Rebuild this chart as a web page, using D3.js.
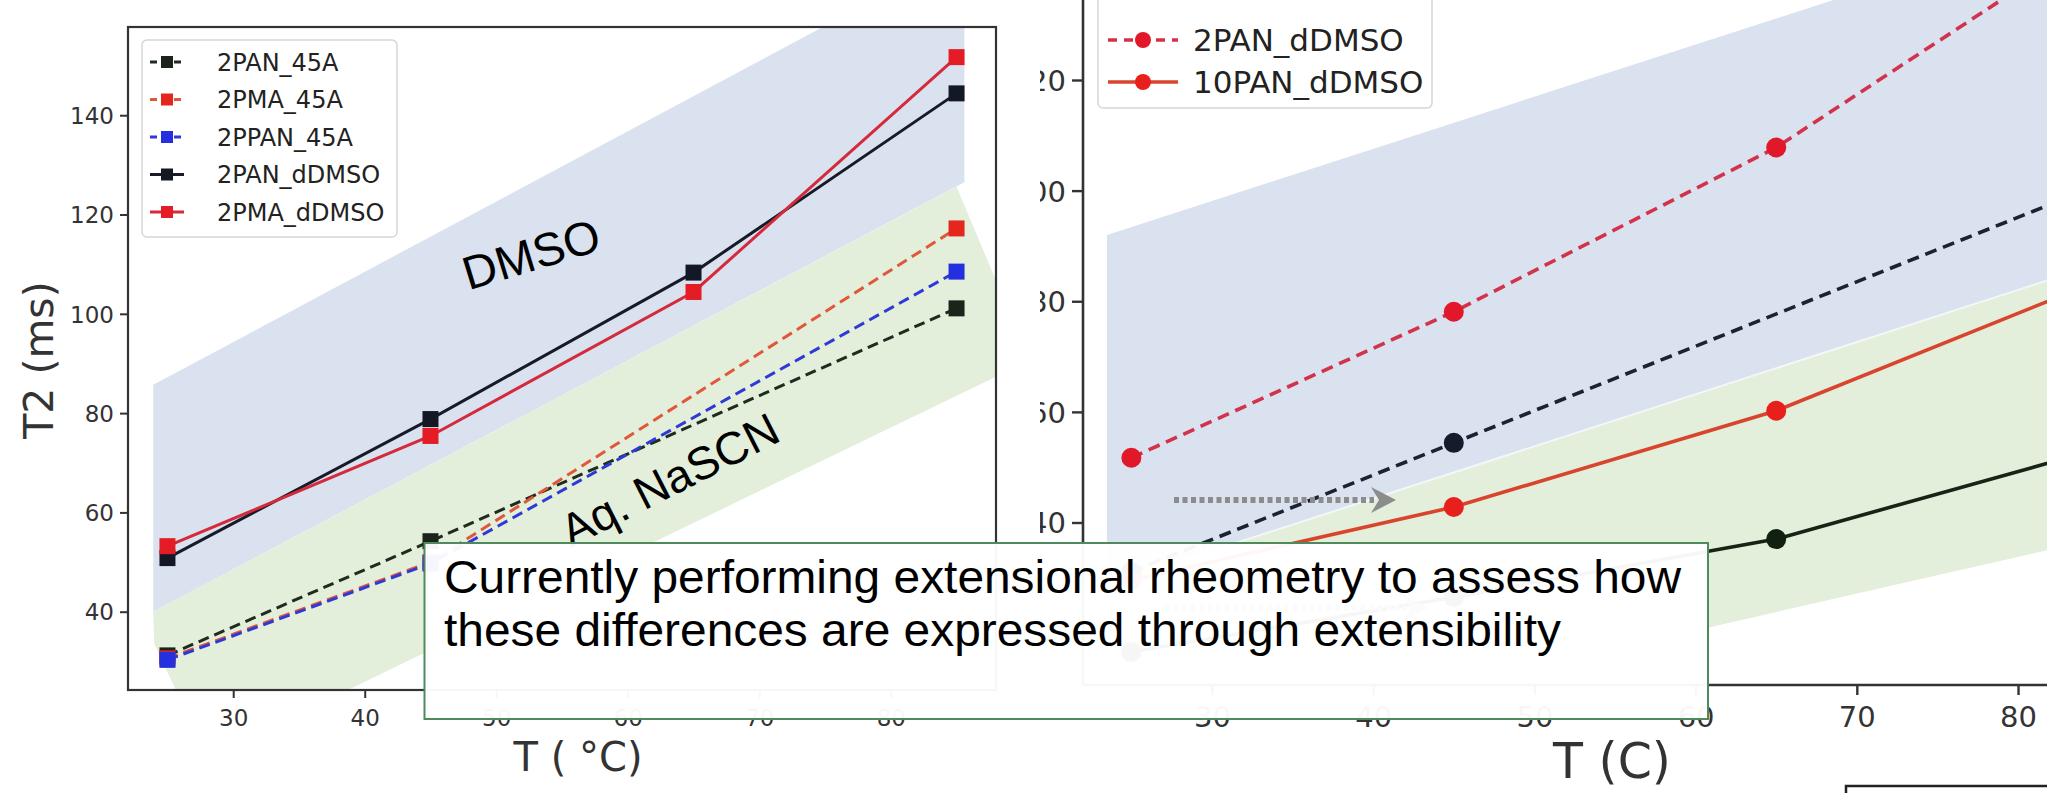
<!DOCTYPE html>
<html><head><meta charset="utf-8">
<script src="https://cdn.jsdelivr.net/npm/d3@7"></script>
<style>body{margin:0;background:#fff;} svg{display:block}</style>
</head><body>
<svg id="c" width="2047" height="793"></svg>
<script>
// ---------- data ----------
const temps = [25, 45, 65, 85];
const temps45A = [25, 45, 85];
const leftNames = ["2PAN_45A", "2PMA_45A", "2PPAN_45A", "2PAN_dDMSO", "2PMA_dDMSO"];
const pan45A = [31.2, 54.2, 101.1];
const pma45A = [30.6, 50.0, 117.2];
const ppan45A = [30.3, 49.7, 108.5];
const panDMSO = [50.8, 78.8, 108.3, 144.4];
const pmaDMSO = [53.2, 75.4, 104.4, 151.7];
const leftXTicks = [30, 40, 50, 60, 70, 80];
const leftYTicks = [40, 60, 80, 100, 120, 140];

const rightNames = ["2PAN_dDMSO", "10PAN_dDMSO"];
const r2PANdDMSO = [51.7, 78.1, 107.8, 146.0];
const r10PANdDMSO = [29.6, 42.8, 60.2, 83.7];
const r2PAN45A = [31.1, 54.4, 101.0];
const r10PAN45A = [16.6, 26.5, 37.0, 53.3];
const rightXTicks = [30, 40, 50, 60, 70, 80];
const rightYTicks = [40, 60, 80, 100, 120];

// shaded regions, in (T, T2) units
const leftDMSOBand = [[23.92, 40], [23.92, 85.7], [85.6, 173], [85.6, 126.5]];
const leftAqBand = [[23.92, 40], [24.0, 33.5], [26.7, 18.2], [34, 18.2], [90.56, 90.6], [85.0, 125.6]];
const rightDMSOBand = [[23.49, 28.76], [23.49, 92.0], [100, 164.1], [100, 100.9]];
const rightAqBand = [[23.49, 28.76], [100, 100.9], [100, 47.1], [23.49, -3.8]];

const noteLines = ["Currently performing extensional rheometry to assess how",
                   "these differences are expressed through extensibility"];

// ---------- setup ----------
const svg = d3.select("#c");
const MPL = "DejaVu Sans";
const ARIAL = "Liberation Sans, Arial, sans-serif";
const BLUE_BAND = "#dae2ef", GREEN_BAND = "#e3eedb";

const defs = svg.append("defs");
defs.append("clipPath").attr("id", "clipL").append("rect")
  .attr("x", 128).attr("y", 27).attr("width", 868).attr("height", 663);
defs.append("clipPath").attr("id", "clipR").append("rect")
  .attr("x", 1083).attr("y", -200).attr("width", 1100).attr("height", 885);
defs.append("clipPath").attr("id", "clipRLab").append("rect")
  .attr("x", 1040).attr("y", 0).attr("width", 1100).attr("height", 793);

// ---------- LEFT CHART ----------
const xL = d3.scaleLinear([22, 88], [128, 996]);
const yL = d3.scaleLinear([24.23, 157.77], [690, 27]);
const gL = svg.append("g");
const pL = gL.append("g").attr("clip-path", "url(#clipL)");
const polyL = d3.line().x(d => xL(d[0])).y(d => yL(d[1]));
pL.append("path").attr("d", polyL(leftDMSOBand) + "Z").attr("fill", BLUE_BAND);
pL.append("path").attr("d", polyL(leftAqBand) + "Z").attr("fill", GREEN_BAND);

const leftSeries = [
  {name: leftNames[0], xs: temps45A, ys: pan45A, line: "#1e2b1e", mk: "#1a241a", dash: true},
  {name: leftNames[1], xs: temps45A, ys: pma45A, line: "#e0573a", mk: "#e5261c", dash: true},
  {name: leftNames[2], xs: temps45A, ys: ppan45A, line: "#2d3ad6", mk: "#2430e0", dash: true},
  {name: leftNames[3], xs: temps, ys: panDMSO, line: "#161b27", mk: "#141824", dash: false},
  {name: leftNames[4], xs: temps, ys: pmaDMSO, line: "#d32a3c", mk: "#e41c26", dash: false}
];
leftSeries.forEach(s => {
  const pts = s.xs.map((t, i) => [t, s.ys[i]]);
  pL.append("path").attr("d", polyL(pts)).attr("fill", "none")
    .attr("stroke", s.line).attr("stroke-width", 3)
    .attr("stroke-dasharray", s.dash ? "11,6" : null);
  pL.selectAll(null).data(pts).enter().append("rect")
    .attr("x", d => xL(d[0]) - 8).attr("y", d => yL(d[1]) - 8)
    .attr("width", 16).attr("height", 16).attr("fill", s.mk);
});

// axes
const axLX = gL.append("g").attr("transform", "translate(0,690)")
  .call(d3.axisBottom(xL).tickValues(leftXTicks).tickSize(8).tickFormat(d3.format("d")));
const axLY = gL.append("g").attr("transform", "translate(128,0)")
  .call(d3.axisLeft(yL).tickValues(leftYTicks).tickSize(8).tickFormat(d3.format("d")));
[axLX, axLY].forEach(a => {
  a.select(".domain").remove();
  a.selectAll("line").attr("stroke", "#333").attr("stroke-width", 2);
  a.selectAll("text").attr("font-family", MPL).attr("font-size", 23).attr("fill", "#333");
});
axLX.selectAll("text").attr("y", 36).attr("dy", 0);
axLY.selectAll("text").attr("x", -14).attr("dy", "0.36em");
gL.append("rect").attr("x", 128).attr("y", 27).attr("width", 868).attr("height", 663)
  .attr("fill", "none").attr("stroke", "#333").attr("stroke-width", 2.2);

gL.append("text").attr("x", 578).attr("y", 771).attr("text-anchor", "middle")
  .attr("font-family", MPL).attr("font-size", 40).attr("fill", "#333").text("T ( °C)");
gL.append("text").attr("transform", "translate(53,360) rotate(-90)").attr("text-anchor", "middle")
  .attr("font-family", MPL).attr("font-size", 41).attr("fill", "#333").text("T2 (ms)");

// legend
const lgL = gL.append("g");
lgL.append("rect").attr("x", 142).attr("y", 40).attr("width", 255).attr("height", 197)
  .attr("rx", 5).attr("fill", "#fff").attr("fill-opacity", 0.85).attr("stroke", "#d6d6d6").attr("stroke-width", 1.5);
leftSeries.forEach((s, i) => {
  const cy = 62 + i * 37.5;
  lgL.append("line").attr("x1", 150).attr("x2", 184).attr("y1", cy).attr("y2", cy)
    .attr("stroke", s.line).attr("stroke-width", 3).attr("stroke-dasharray", s.dash ? "7,5" : null);
  lgL.append("rect").attr("x", 161).attr("y", cy - 6).attr("width", 12).attr("height", 12).attr("fill", s.mk);
  lgL.append("text").attr("x", 217).attr("y", cy).attr("dy", "0.36em")
    .attr("font-family", MPL).attr("font-size", 24).attr("fill", "#222").text(s.name);
});

// annotations
svg.append("text").attr("transform", "translate(536,270) rotate(-17)").attr("text-anchor", "middle")
  .attr("font-family", ARIAL).attr("font-size", 47).attr("fill", "#000").text("DMSO");
svg.append("text").attr("transform", "translate(677,494) rotate(-27)").attr("text-anchor", "middle")
  .attr("font-family", ARIAL).attr("font-size", 46).attr("fill", "#000").text("Aq. NaSCN");

// ---------- RIGHT CHART ----------
const xR = d3.scaleLinear([22, 88], [1083, 2147]);
const yR = d3.scaleLinear([40, 120], [522.5, 80]);
const gR = svg.append("g");
const pR = gR.append("g").attr("clip-path", "url(#clipR)");
const polyR = d3.line().x(d => xR(d[0])).y(d => yR(d[1]));
pR.append("path").attr("d", polyR(rightDMSOBand) + "Z").attr("fill", BLUE_BAND);
pR.append("path").attr("d", polyR(rightAqBand) + "Z").attr("fill", GREEN_BAND);
pR.append("path").attr("d", polyR([rightAqBand[0], rightAqBand[1]])).attr("stroke", "#f4f7f8").attr("stroke-width", 2).attr("fill", "none");

const rightSeries = [
  {name: "10PAN_45A", xs: temps, ys: r10PAN45A, line: "#152415", mk: "#122012", dash: false},
  {name: "2PAN_45A", xs: temps45A, ys: r2PAN45A, line: "#1b2333", mk: "#141b2a", dash: true},
  {name: rightNames[0], xs: temps, ys: r2PANdDMSO, line: "#d2324a", mk: "#e0182a", dash: true},
  {name: rightNames[1], xs: temps, ys: r10PANdDMSO, line: "#d8452c", mk: "#e8201c", dash: false}
];
rightSeries.forEach(s => {
  const pts = s.xs.map((t, i) => [t, s.ys[i]]);
  pR.append("path").attr("d", polyR(pts)).attr("fill", "none")
    .attr("stroke", s.line).attr("stroke-width", 3.6)
    .attr("stroke-dasharray", s.dash ? "12,7" : null);
  pR.selectAll(null).data(pts).enter().append("circle")
    .attr("cx", d => xR(d[0])).attr("cy", d => yR(d[1])).attr("r", 10).attr("fill", s.mk);
});

const axRX = gR.append("g").attr("transform", "translate(0,685)")
  .call(d3.axisBottom(xR).tickValues(rightXTicks).tickSize(10).tickFormat(d3.format("d")));
const labClip = gR.append("g").attr("clip-path", "url(#clipRLab)");
const axRY = labClip.append("g").attr("transform", "translate(1083,0)")
  .call(d3.axisLeft(yR).tickValues(rightYTicks).tickSize(11).tickFormat(d3.format("d")));
[axRX, axRY].forEach(a => {
  a.select(".domain").remove();
  a.selectAll("line").attr("stroke", "#333").attr("stroke-width", 2.4);
  a.selectAll("text").attr("font-family", MPL).attr("font-size", 29).attr("fill", "#333");
});
axRY.selectAll("text").attr("x", -17).attr("dy", "0.36em");
axRX.selectAll("text").attr("y", 42).attr("dy", 0);
gR.append("path").attr("d", "M1083,-10 V685 H2060").attr("fill", "none").attr("stroke", "#333").attr("stroke-width", 2.6);
gR.append("text").attr("x", 1612).attr("y", 778).attr("text-anchor", "middle")
  .attr("font-family", MPL).attr("font-size", 49).attr("fill", "#333").text("T (C)");

// legend (visible part)
const lgR = gR.append("g");
lgR.append("rect").attr("x", 1098).attr("y", -40).attr("width", 334).attr("height", 148)
  .attr("rx", 5).attr("fill", "#fff").attr("fill-opacity", 0.85).attr("stroke", "#d6d6d6").attr("stroke-width", 1.5);
rightSeries.slice(2).forEach((s, i) => {
  const cy = 40 + i * 42;
  lgR.append("line").attr("x1", 1108).attr("x2", 1178).attr("y1", cy).attr("y2", cy)
    .attr("stroke", s.line).attr("stroke-width", 3.6).attr("stroke-dasharray", s.dash ? "9,7" : null);
  lgR.append("circle").attr("cx", 1143).attr("cy", cy).attr("r", 8).attr("fill", s.mk);
  lgR.append("text").attr("x", 1193).attr("y", cy).attr("dy", "0.36em")
    .attr("font-family", MPL).attr("font-size", 31).attr("fill", "#222").text(s.name);
});

// dotted arrows
function arrow(x1, x2, y) {
  svg.append("line").attr("x1", x1).attr("x2", x2 - 22).attr("y1", y).attr("y2", y)
    .attr("stroke", "#8c8c8c").attr("stroke-width", 6).attr("stroke-dasharray", "5,3.5");
  svg.append("path").attr("d", `M${x2 - 25},${y - 13} L${x2},${y} L${x2 - 25},${y + 13} L${x2 - 17},${y} Z`)
    .attr("fill", "#8c8c8c");
}
arrow(1174, 1396, 500);
arrow(1165, 1428, 608);

// ---------- overlay note ----------
svg.append("rect").attr("x", 424.5).attr("y", 543).attr("width", 1283.5).attr("height", 176)
  .attr("fill", "#fff").attr("fill-opacity", 0.96).attr("stroke", "#4f8a5c").attr("stroke-width", 2);
noteLines.forEach((t, i) => {
  svg.append("text").attr("x", 444).attr("y", 593 + i * 53)
    .attr("font-family", ARIAL).attr("font-size", 47).attr("fill", "#000")
    .attr("textLength", i === 0 ? 1237 : 1117).attr("lengthAdjust", "spacingAndGlyphs").text(t);
});
svg.append("path").attr("d", "M1846,800 V786 H2060").attr("fill", "none").attr("stroke", "#222").attr("stroke-width", 2.5);
</script>
</body></html>
